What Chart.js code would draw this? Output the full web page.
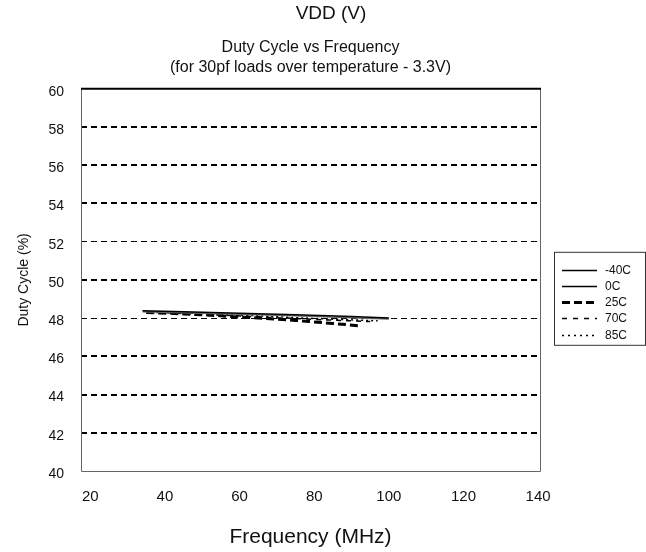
<!DOCTYPE html>
<html>
<head>
<meta charset="utf-8">
<title>Duty Cycle vs Frequency</title>
<script src="https://cdn.jsdelivr.net/npm/chart.js@4.4.0/dist/chart.umd.min.js"></script>
<style>
  html, body { margin: 0; padding: 0; background: #fff; }
</style>
</head>
<body>
<canvas id="chart" width="646" height="552"></canvas>
<script>
// values (MHz / %)
const seriesLabels = ['-40C', '0C', '25C', '70C', '85C'];

const freqM40 = [34, 45, 60, 75, 90, 100];
const dutyM40 = [48.38, 48.33, 48.26, 48.18, 48.08, 48.0];

const freq0 = [34, 45, 60, 75, 90, 100];
const duty0 = [48.33, 48.28, 48.2, 48.12, 48.02, 47.96];

const freq25 = [35, 45, 55, 65, 75, 85, 92];
const duty25 = [48.3, 48.22, 48.12, 48.0, 47.88, 47.72, 47.6];

const freq70 = [35, 50, 65, 80, 95];
const duty70 = [48.32, 48.2, 48.07, 47.93, 47.82];

const freq85 = [35, 50, 65, 80, 97];
const duty85 = [48.34, 48.24, 48.12, 47.98, 47.86];

const xTicks = [20, 40, 60, 80, 100, 120, 140];
const yTicks = [40, 42, 44, 46, 48, 50, 52, 54, 56, 58, 60];
const thinGrid = [48, 52];

const FONT = '"Liberation Sans", Arial, sans-serif';
Chart.defaults.font.family = FONT;
Chart.defaults.color = '#111';

function pairs(xs, ys) {
	return xs.map((x, i) => ({ x: x, y: ys[i] }));
}

// plot frame: thick top edge, thin grey sides
const framePlugin = {
	id: 'frame',
	beforeDatasetsDraw(chart) {
		const { ctx, chartArea: a } = chart;
		ctx.save();
		ctx.strokeStyle = '#666';
		ctx.lineWidth = 1;
		ctx.beginPath();
		ctx.moveTo(a.left + 0.5, a.top);
		ctx.lineTo(a.left + 0.5, a.bottom + 0.5);
		ctx.lineTo(a.right + 0.5, a.bottom + 0.5);
		ctx.lineTo(a.right + 0.5, a.top);
		ctx.stroke();
		ctx.strokeStyle = '#000';
		ctx.lineWidth = 2;
		ctx.beginPath();
		ctx.moveTo(a.left, a.top);
		ctx.lineTo(a.right + 1, a.top);
		ctx.stroke();
		ctx.restore();
	}
};

// boxed legend to the right of the plot
const legendBox = {
	id: 'legendBox',
	afterDraw(chart) {
		const { ctx, chartArea: a } = chart;
		const left = a.right + 14;
		const top = a.top + 163;
		ctx.save();
		ctx.strokeStyle = '#333';
		ctx.lineWidth = 1;
		ctx.strokeRect(left + 0.5, top + 0.5, 91, 93);
		ctx.font = '12px ' + FONT;
		ctx.textBaseline = 'middle';
		ctx.fillStyle = '#111';
		chart.data.datasets.forEach((ds, i) => {
			const y = Math.round(top + 18 + i * 16.2) + 0.5;
			ctx.setLineDash(ds.legendDash || []);
			ctx.lineWidth = ds.legendWidth;
			ctx.strokeStyle = '#000';
			ctx.beginPath();
			ctx.moveTo(left + 8, y);
			ctx.lineTo(left + 43, y);
			ctx.stroke();
			ctx.setLineDash([]);
			ctx.fillText(ds.label, left + 51, y);
		});
		ctx.restore();
	}
};

const ctx = document.getElementById('chart').getContext('2d');
const myChart = new Chart(ctx, {
	type: 'line',
	data: {
		datasets: [{
			label: seriesLabels[0],
			data: pairs(freqM40, dutyM40),
			borderColor: '#000',
			borderWidth: 1.5,
			legendWidth: 1.5
		}, {
			label: seriesLabels[1],
			data: pairs(freq0, duty0),
			borderColor: '#666',
			borderWidth: 1.5,
			legendWidth: 1.5
		}, {
			label: seriesLabels[2],
			data: pairs(freq25, duty25),
			borderColor: '#000',
			borderWidth: 3,
			borderDash: [8, 4],
			legendWidth: 3,
			legendDash: [8, 4]
		}, {
			label: seriesLabels[3],
			data: pairs(freq70, duty70),
			borderColor: '#000',
			borderWidth: 1.5,
			borderDash: [5, 5],
			legendWidth: 1.5,
			legendDash: [5, 6]
		}, {
			label: seriesLabels[4],
			data: pairs(freq85, duty85),
			borderColor: '#000',
			borderWidth: 1.5,
			borderDash: [2, 3],
			legendWidth: 1.5,
			legendDash: [2, 4]
		}]
	},
	options: {
		responsive: false,
		animation: false,
		elements: {
			point: { radius: 0 },
			line: { tension: 0, fill: false }
		},
		layout: { padding: { left: 16, top: 2, right: 0, bottom: 0 } },
		plugins: {
			legend: { display: false },
			tooltip: { enabled: false },
			title: {
				display: true,
				text: 'VDD (V)',
				color: '#111',
				font: { size: 19, weight: 'normal' },
				padding: { top: 0, bottom: 8 }
			},
			subtitle: {
				display: true,
				fullSize: false,
				text: ['Duty Cycle vs Frequency', '(for 30pf loads over temperature - 3.3V)'],
				color: '#111',
				font: { size: 16, lineHeight: 1.25 },
				padding: { top: 5, bottom: 11 }
			}
		},
		scales: {
			x: {
				type: 'linear',
				min: 17.5,
				max: 140.5,
				afterBuildTicks: (s) => { s.ticks = xTicks.map((v) => ({ value: v })); },
				afterFit: (s) => { s.height = 81; },
				grid: { display: false, drawTicks: false },
				border: { display: false },
				ticks: { padding: 17, font: { size: 15 } },
				title: {
					display: true,
					text: 'Frequency (MHz)',
					font: { size: 21 },
					padding: { top: 4, bottom: 2 }
				}
			},
			y: {
				min: 40,
				max: 60,
				afterBuildTicks: (s) => { s.ticks = yTicks.map((v) => ({ value: v })); },
				afterFit: (s) => { s.width = 65; },
				grid: {
					drawTicks: false,
					color: (c) => (c.tick.value === 40 || c.tick.value === 60) ? 'rgba(0,0,0,0)' : '#000',
					lineWidth: (c) => thinGrid.includes(c.tick.value) ? 1 : 2
				},
				border: { display: false, dash: [6, 4] },
				ticks: { padding: 17, labelOffset: 3, font: { size: 14 } },
				title: {
					display: true,
					text: 'Duty Cycle (%)',
					font: { size: 14 },
					padding: { top: 0, bottom: 0 }
				}
			},
			y2: {
				position: 'right',
				min: 0,
				max: 1,
				grid: { display: false, drawTicks: false },
				border: { display: false },
				ticks: { display: false },
				afterFit: (s) => { s.width = 106; }
			}
		}
	},
	plugins: [framePlugin, legendBox]
});
</script>
</body>
</html>
